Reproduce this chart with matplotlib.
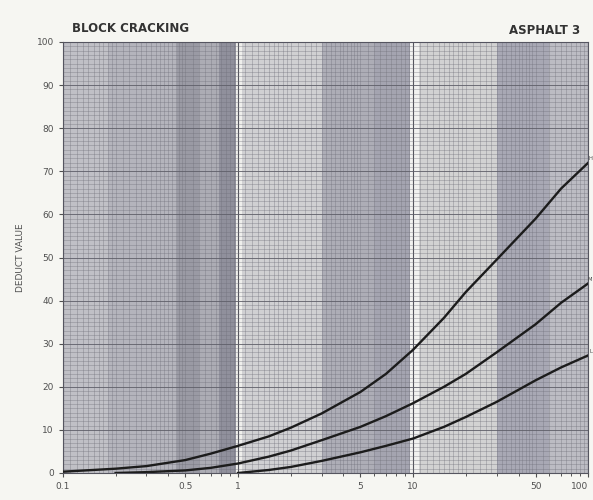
import numpy as np
import matplotlib.pyplot as plt
from matplotlib.ticker import FixedLocator, NullFormatter

# density (% of area) vs deduct value
x_h = [0.1, 0.2, 0.3, 0.5, 0.7, 1, 1.5, 2, 3, 5, 7, 10, 15, 20, 30, 50, 70, 100]
dv_h = [0.3, 1.0, 1.6, 3.0, 4.5, 6.3, 8.5, 10.5, 13.8, 18.8, 23.0, 28.6, 36, 42, 49.5, 59, 66, 72]

x_m = [0.2, 0.3, 0.5, 0.7, 1, 1.5, 2, 3, 5, 7, 10, 15, 20, 30, 50, 70, 100]
dv_m = [0, 0.2, 0.6, 1.2, 2.2, 3.8, 5.2, 7.6, 10.7, 13.2, 16.2, 20, 23, 28, 34.5, 39.5, 44]

x_l = [1, 1.5, 2, 3, 5, 7, 10, 15, 20, 30, 50, 70, 100]
dv_l = [0, 0.7, 1.4, 2.8, 4.8, 6.3, 8, 10.7, 13, 16.5, 21.5, 24.5, 27.3]

x_ticks = [0.1, 0.5, 1, 5, 10, 50, 100]
x_ticklabels = ['0.1', '0.5', '1', '5', '10', '50', '100']
y_ticks = list(range(0, 101, 10))
curve_labels = ['H', 'M', 'L']

fig = plt.figure(figsize=(5.93, 5.0), dpi=100, facecolor='#f6f6f2')
ax = fig.add_axes([0.106, 0.054, 0.886, 0.862])
ax.set_xscale('log')
ax.set_xlim(0.1, 100)
ax.set_ylim(0, 100)
ax.set_facecolor('#bcbcc2')

# scanned paper shading (vertical bands)
bands = [(0.1, 0.18, '#c0c0c6'), (0.18, 0.45, '#b4b4bc'), (0.45, 0.6, '#9a9aa4'),
         (0.6, 0.78, '#acacb4'), (0.78, 0.98, '#90909c'), (0.98, 1.06, '#efefec'),
         (1.06, 3, '#d0d0d2'), (3, 6, '#adadb6'), (6, 9.6, '#a4a4b0'),
         (9.6, 10.8, '#f2f2f0'), (10.8, 30, '#d2d2d2'), (30, 60, '#a8a8b4'),
         (60, 100, '#bcbcc3')]
for a, b, c in bands:
    ax.axvspan(a, b, color=c, lw=0, zorder=0)

# graph paper grid
minor_x = []
for dec in [0.1, 1, 10]:
    minor_x += list(dec * np.arange(1, 2, 0.1)) + list(dec * np.arange(2, 5, 0.2)) + list(dec * np.arange(5, 10, 0.5))
for v in minor_x:
    ax.axvline(v, color='#70707a', lw=0.45, alpha=0.55, zorder=1)
for v in [0.1, 1, 10, 100]:
    ax.axvline(v, color='#55555e', lw=0.8, zorder=1)
for v in np.arange(0, 101, 1):
    ax.axhline(v, color='#70707a', lw=0.45, alpha=0.55, zorder=1)
for v in np.arange(0, 101, 10):
    ax.axhline(v, color='#5e5e68', lw=0.7, alpha=0.8, zorder=1)

ax.plot(x_h, dv_h, color='#1c1c1c', lw=1.7, zorder=3)
ax.plot(x_m, dv_m, color='#1c1c1c', lw=1.7, zorder=3)
ax.plot(x_l, dv_l, color='#1c1c1c', lw=1.7, zorder=3)

ax.xaxis.set_major_locator(FixedLocator(x_ticks))
ax.set_xticklabels(x_ticklabels)
ax.get_xticklabels()[-1].set_horizontalalignment('right')
ax.xaxis.set_minor_locator(FixedLocator([0.2, 0.3, 0.4, 0.6, 0.7, 0.8, 0.9,
                                         2, 3, 4, 6, 7, 8, 9, 20, 30, 40, 60, 70, 80, 90]))
ax.xaxis.set_minor_formatter(NullFormatter())
ax.set_yticks(y_ticks)
ax.tick_params(axis='both', which='major', labelsize=6.5, colors='#505050', length=3, width=0.8)
ax.tick_params(axis='x', which='minor', length=2.5, width=0.7, colors='#555555')
for s in ax.spines.values():
    s.set_color('#555560')
    s.set_linewidth(0.8)

ax.set_ylabel('DEDUCT VALUE', fontsize=6.5, color='#505050', labelpad=8)

fig.text(0.122, 0.937, 'BLOCK CRACKING', fontsize=8.5, fontweight='bold', color='#333333')
fig.text(0.978, 0.932, 'ASPHALT 3', fontsize=8.5, fontweight='bold', color='#333333', ha='right')

# curve labels squeezed into the right edge
for lab, yv in zip(curve_labels, [dv_h[-1], dv_m[-1], dv_l[-1]]):
    ax.annotate(lab, xy=(1, yv / 100 + 0.01), xycoords='axes fraction',
                xytext=(592, 0), textcoords=('figure pixels', 'offset points'),
                ha='right', va='center', fontsize=3.8, color='#444444')

fig.savefig('out.png', dpi=100, facecolor=fig.get_facecolor())
